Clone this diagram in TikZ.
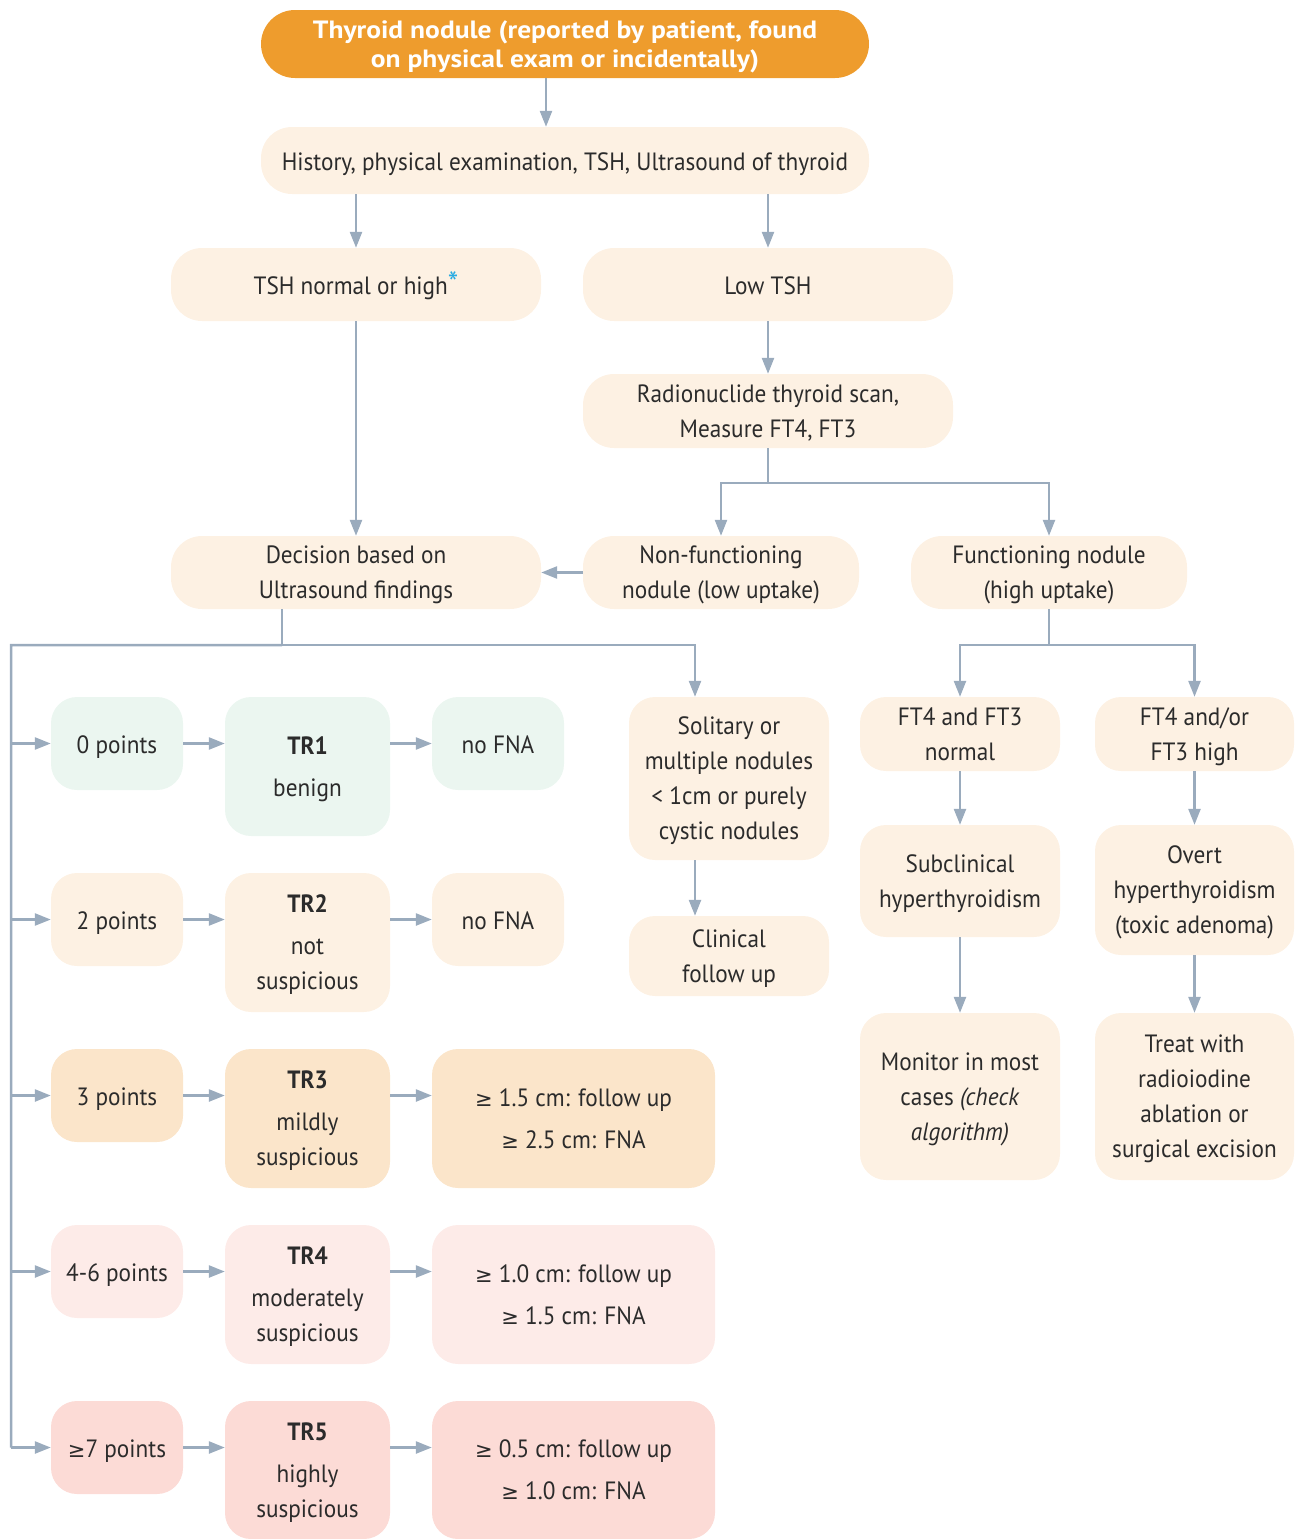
\documentclass[tikz,border=0pt]{standalone}
\usepackage{fontspec}
\setmainfont{PT Sans}[FakeStretch=0.93]
\newfontfamily\titlefont{PT Sans}[FakeStretch=1.1]
\newfontfamily\symfont{DejaVu Sans}
\usetikzlibrary{arrows.meta}

\definecolor{ink}{HTML}{2B2B2B}
\definecolor{orangefill}{HTML}{EE9C2D}
\definecolor{cream}{HTML}{FDF1E3}
\definecolor{mint}{HTML}{EBF6F0}
\definecolor{peach}{HTML}{FBE5CA}
\definecolor{blush}{HTML}{FDEBE8}
\definecolor{rose}{HTML}{FCDBD6}
\definecolor{linkc}{HTML}{9AABBD}
\definecolor{starblue}{HTML}{29ABE2}

% greater-or-equal sign with a level bar
\newcommand{\gesign}{{\symfont\fontsize{21}{21}\selectfont ≥}}

\begin{document}
\begin{tikzpicture}[x=1pt,y=-1pt,
  box/.style={fill=cream, rounded corners=26pt, inner sep=0pt, align=center,
              text=ink, font=\fontsize{25}{35}\selectfont,
              execute at begin node={\rule{0pt}{28pt}},
              execute at end node={\rule[-8pt]{0pt}{8pt}}},
  multi/.style={text depth=-7pt},
  pill/.style={box, rounded corners=31pt},
  ln/.style={draw=linkc, line width=2.5pt},
  arr/.style={ln, -{Triangle[length=16pt,width=12pt]}},
]
\useasboundingbox (0,0) rectangle (1294,1539);

% ---- upper part of the flow ----
\node[pill, multi, fill=orangefill, text=white, rounded corners=34pt,
      font=\titlefont\bfseries\fontsize{25}{29}\selectfont,
      minimum width=608pt, minimum height=68pt] (top) at (565,44)
  {Thyroid nodule (reported by patient, found\\on physical exam or incidentally)};
\node[pill, minimum width=608pt, minimum height=67pt] (hist) at (565,160.5)
  {History, physical examination, TSH, Ultrasound of thyroid};
\node[pill, minimum width=370pt, minimum height=73pt] (tshn) at (356,284.5)
  {TSH normal or high\textcolor{starblue}{\fontsize{32}{32}\selectfont *}};
\node[pill, minimum width=370pt, minimum height=73pt] (lowtsh) at (768,284.5)
  {Low TSH};
\node[pill, multi, minimum width=370pt, minimum height=74pt] (radio) at (768,411)
  {Radionuclide thyroid scan,\\Measure FT4, FT3};
\node[pill, multi, minimum width=370pt, minimum height=73pt] (decision) at (356,572.5)
  {Decision based on\\Ultrasound findings};
\node[pill, multi, minimum width=276pt, minimum height=73pt] (nonfunc) at (721,572.5)
  {Non-functioning\\nodule (low uptake)};
\node[pill, multi, minimum width=276pt, minimum height=73pt] (func) at (1049,572.5)
  {Functioning nodule\\(high uptake)};

% ---- middle and right columns ----
\node[box, multi, minimum width=200pt, minimum height=163pt] (solitary) at (729,778.5)
  {Solitary or\\multiple nodules\\< 1cm or purely\\cystic nodules};
\node[box, multi, minimum width=200pt, minimum height=80pt] (clinical) at (729,956)
  {Clinical\\follow up};
\node[box, multi, minimum width=200pt, minimum height=74pt] (ft4n) at (960,734)
  {FT4 and FT3\\normal};
\node[box, multi, minimum width=199pt, minimum height=74pt] (ft4h) at (1194.5,734)
  {FT4 and/or\\FT3 high};
\node[box, multi, minimum width=200pt, minimum height=112pt] (subclin) at (960,881)
  {Subclinical\\hyperthyroidism};
\node[box, multi, minimum width=199pt, minimum height=130pt] (overt) at (1194.5,890)
  {Overt\\hyperthyroidism\\(toxic adenoma)};
\node[box, multi, minimum width=200pt, minimum height=167pt] (monitor) at (960,1096.5)
  {Monitor in most\\cases \textit{(check}\\\textit{algorithm)}};
\node[box, multi, minimum width=199pt, minimum height=167pt] (treat) at (1194.5,1096.5)
  {Treat with\\radioiodine\\ablation or\\surgical excision};

% ---- TI-RADS rows ----
\node[box, fill=mint, minimum width=132pt, minimum height=93pt] (p1) at (117,743.5) {0 points};
\node[box, multi, fill=mint, minimum width=165pt, minimum height=139pt] (tr1) at (307.5,766.5)
  {\textbf{TR1}\\[7pt]benign};
\node[box, fill=mint, minimum width=132pt, minimum height=93pt] (r1) at (498,743.5) {no FNA};

\node[box, minimum width=132pt, minimum height=93pt] (p2) at (117,919.5) {2 points};
\node[box, multi, minimum width=165pt, minimum height=139pt] (tr2) at (307.5,942.5)
  {\textbf{TR2}\\[7pt]not\\suspicious};
\node[box, minimum width=132pt, minimum height=93pt] (r2) at (498,919.5) {no FNA};

\node[box, fill=peach, minimum width=132pt, minimum height=93pt] (p3) at (117,1095.5) {3 points};
\node[box, multi, fill=peach, minimum width=165pt, minimum height=139pt] (tr3) at (307.5,1118.5)
  {\textbf{TR3}\\[7pt]mildly\\suspicious};
\node[box, multi, fill=peach, minimum width=283pt, minimum height=139pt] (r3) at (573.5,1118.5)
  {\gesign\ 1.5 cm: follow up\\[7pt]\gesign\ 2.5 cm: FNA};

\node[box, fill=blush, minimum width=132pt, minimum height=93pt] (p4) at (117,1271.5) {4-6 points};
\node[box, multi, fill=blush, minimum width=165pt, minimum height=139pt] (tr4) at (307.5,1294.5)
  {\textbf{TR4}\\[7pt]moderately\\suspicious};
\node[box, multi, fill=blush, minimum width=283pt, minimum height=139pt] (r4) at (573.5,1294.5)
  {\gesign\ 1.0 cm: follow up\\[7pt]\gesign\ 1.5 cm: FNA};

\node[box, fill=rose, minimum width=132pt, minimum height=93pt] (p5) at (117,1447.5) {\gesign7 points};
\node[box, multi, fill=rose, minimum width=165pt, minimum height=138pt] (tr5) at (307.5,1470)
  {\textbf{TR5}\\[7pt]highly\\suspicious};
\node[box, multi, fill=rose, minimum width=283pt, minimum height=138pt] (r5) at (573.5,1470)
  {\gesign\ 0.5 cm: follow up\\[7pt]\gesign\ 1.0 cm: FNA};

% ---- connectors ----
\draw[arr] ([xshift=-19pt]top.south) -- ([xshift=-19pt]hist.north);
\draw[arr] (hist.south -| tshn.north) -- (tshn.north);
\draw[arr] (hist.south -| lowtsh.north) -- (lowtsh.north);
\draw[arr] (tshn.south) -- (decision.north);
\draw[arr] (lowtsh.south) -- (radio.north);
\draw[arr] (radio.south) -- ++(0,35) -| (nonfunc.north);
\draw[arr] (radio.south) -- ++(0,35) -| (func.north);
\draw[arr] (nonfunc.west) -- (decision.east);

\draw[ln] ([xshift=-74pt]decision.south) -- ++(0,36) coordinate (dj);
\coordinate (busL) at (11,645);
\draw[arr] (dj) -| ([xshift=-34pt]solitary.north);
\draw[ln] (dj) -- (busL) -- (busL |- p5.west);
\foreach \i in {1,...,5} {
  \draw[arr] (busL |- p\i.west) -- (p\i.west);
  \draw[arr] (p\i.east) -- (p\i.east -| tr\i.west);
  \draw[arr] (p\i.east -| tr\i.east) -- (p\i.east -| r\i.west);
}
\draw[arr] ([xshift=-34pt]solitary.south) -- ([xshift=-34pt]clinical.north);

\draw[arr] (func.south) -- ++(0,36) -| (ft4n.north);
\draw[arr] (func.south) -- ++(0,36) -| (ft4h.north);
\draw[arr] (ft4n.south) -- (subclin.north);
\draw[arr] (subclin.south) -- (monitor.north);
\draw[arr] (ft4h.south) -- (overt.north);
\draw[arr] (overt.south) -- (treat.north);
\end{tikzpicture}
\end{document}
